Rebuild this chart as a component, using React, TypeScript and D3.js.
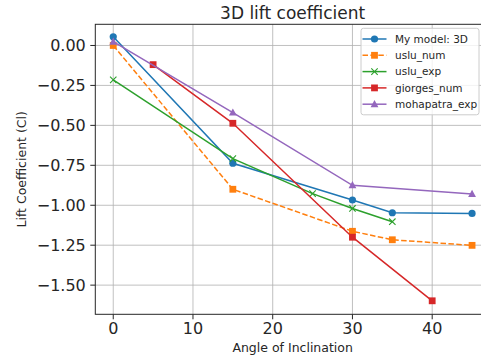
import React, { useRef, useEffect } from "react";
import * as d3 from "d3";

// angle of inclination (deg) and lift coefficient for each source
const modelAngles = [0, 15, 30, 35, 45];
const modelCl = [0.054, -0.737, -0.967, -1.047, -1.051];

const usluNumAngles = [0, 15, 30, 35, 45];
const usluNumCl = [0.0, -0.9, -1.163, -1.216, -1.251];

const usluExpAngles = [0, 15, 25, 30, 35];
const usluExpCl = [-0.215, -0.708, -0.927, -1.02, -1.103];

const giorgesAngles = [5, 15, 30, 40];
const giorgesCl = [-0.12, -0.487, -1.2, -1.598];

const mohapatraAngles = [0, 15, 30, 45];
const mohapatraCl = [0.024, -0.42, -0.875, -0.93];

const xTicks = [0, 10, 20, 30, 40];
const yTicks = [0, -0.25, -0.5, -0.75, -1.0, -1.25, -1.5];

interface Series {
  name: string;
  xs: number[];
  ys: number[];
  color: string;
  marker: "circle" | "square" | "x" | "triangle";
  dashed: boolean;
}

const series: Series[] = [
  { name: "My model: 3D", xs: modelAngles, ys: modelCl, color: "#1f77b4", marker: "circle", dashed: false },
  { name: "uslu_num", xs: usluNumAngles, ys: usluNumCl, color: "#ff7f0e", marker: "square", dashed: true },
  { name: "uslu_exp", xs: usluExpAngles, ys: usluExpCl, color: "#2ca02c", marker: "x", dashed: false },
  { name: "giorges_num", xs: giorgesAngles, ys: giorgesCl, color: "#d62728", marker: "square", dashed: false },
  { name: "mohapatra_exp", xs: mohapatraAngles, ys: mohapatraCl, color: "#9467bd", marker: "triangle", dashed: false },
];

const App: React.FC = () => {
  const svgRef = useRef<SVGSVGElement | null>(null);

  const width = 481;
  const height = 362;
  const left = 95.3;
  const right = 490;
  const top = 24.3;
  const bottom = 314.3;

  useEffect(() => {
    document.body.style.margin = "0";
    if (!svgRef.current) return;
    const svg = d3.select(svgRef.current);
    svg.selectAll("*").remove();

    const font = "DejaVu Sans, sans-serif";
    const xScale = d3.scaleLinear().domain([-2.25, 47.25]).range([left, right]);
    const yScale = d3.scaleLinear().domain([0.1325, -1.6825]).range([top, bottom]);

    // grid
    svg.append("g").selectAll("line").data(xTicks).enter().append("line")
      .attr("x1", (d) => xScale(d)).attr("x2", (d) => xScale(d))
      .attr("y1", top).attr("y2", bottom)
      .attr("stroke", "#b0b0b0").attr("stroke-width", 0.8);
    svg.append("g").selectAll("line").data(yTicks).enter().append("line")
      .attr("y1", (d) => yScale(d)).attr("y2", (d) => yScale(d))
      .attr("x1", left).attr("x2", right)
      .attr("stroke", "#b0b0b0").attr("stroke-width", 0.8);

    // series
    const line = d3.line<[number, number]>().x((d) => xScale(d[0])).y((d) => yScale(d[1]));
    const drawMarker = (g: d3.Selection<SVGGElement, unknown, null, undefined>, s: Series, cx: number, cy: number) => {
      if (s.marker === "circle") {
        g.append("circle").attr("cx", cx).attr("cy", cy).attr("r", 3.6).attr("fill", s.color);
      } else if (s.marker === "square") {
        g.append("rect").attr("x", cx - 3.4).attr("y", cy - 3.4).attr("width", 6.8).attr("height", 6.8).attr("fill", s.color);
      } else if (s.marker === "triangle") {
        g.append("path")
          .attr("d", `M${cx},${cy - 4.2}L${cx + 3.9},${cy + 3}L${cx - 3.9},${cy + 3}Z`)
          .attr("fill", s.color);
      } else {
        g.append("path")
          .attr("d", `M${cx - 3.2},${cy - 3.2}L${cx + 3.2},${cy + 3.2}M${cx - 3.2},${cy + 3.2}L${cx + 3.2},${cy - 3.2}`)
          .attr("stroke", s.color).attr("stroke-width", 1.1).attr("fill", "none");
      }
    };

    series.forEach((s) => {
      const g = svg.append("g");
      const pts = s.xs.map((x, i) => [x, s.ys[i]] as [number, number]);
      g.append("path")
        .attr("d", line(pts))
        .attr("fill", "none")
        .attr("stroke", s.color)
        .attr("stroke-width", 1.5)
        .attr("stroke-dasharray", s.dashed ? "5.5,2.4" : null);
      pts.forEach((p) => drawMarker(g, s, xScale(p[0]), yScale(p[1])));
    });

    // spines
    svg.append("rect")
      .attr("x", left).attr("y", top)
      .attr("width", right - left).attr("height", bottom - top)
      .attr("fill", "none").attr("stroke", "#262626").attr("stroke-width", 1);

    // ticks
    svg.append("g").selectAll("line").data(xTicks).enter().append("line")
      .attr("x1", (d) => xScale(d)).attr("x2", (d) => xScale(d))
      .attr("y1", bottom).attr("y2", bottom + 5)
      .attr("stroke", "#262626").attr("stroke-width", 1);
    svg.append("g").selectAll("text").data(xTicks).enter().append("text")
      .attr("x", (d) => xScale(d)).attr("y", bottom + 19.5)
      .attr("text-anchor", "middle")
      .attr("font-family", font).attr("font-size", 16).attr("fill", "#262626")
      .text((d) => String(d));

    svg.append("g").selectAll("line").data(yTicks).enter().append("line")
      .attr("y1", (d) => yScale(d)).attr("y2", (d) => yScale(d))
      .attr("x1", left - 5).attr("x2", left)
      .attr("stroke", "#262626").attr("stroke-width", 1);
    svg.append("g").selectAll("text").data(yTicks).enter().append("text")
      .attr("x", left - 9.5).attr("y", (d) => yScale(d) + 5.8)
      .attr("text-anchor", "end")
      .attr("font-family", font).attr("font-size", 16).attr("fill", "#262626")
      .text((d) => d3.format(".2f")(d).replace("-", "\u2212"));

    // labels
    svg.append("text")
      .attr("x", (left + right) / 2).attr("y", 18.5)
      .attr("text-anchor", "middle")
      .attr("font-family", font).attr("font-size", 17).attr("fill", "#262626")
      .text("3D lift coefficient");
    svg.append("text")
      .attr("x", (left + right) / 2).attr("y", 352)
      .attr("text-anchor", "middle")
      .attr("font-family", font).attr("font-size", 12.5).attr("fill", "#262626")
      .text("Angle of Inclination");
    svg.append("text")
      .attr("transform", `translate(26,${(top + bottom) / 2}) rotate(-90)`)
      .attr("text-anchor", "middle")
      .attr("font-family", font).attr("font-size", 12.5).attr("fill", "#262626")
      .text("Lift Coefficient (Cl)");

    // legend
    const lg = svg.append("g");
    lg.append("rect")
      .attr("x", 361).attr("y", 28.3).attr("width", 118).attr("height", 86.5)
      .attr("rx", 2.5)
      .attr("fill", "white").attr("fill-opacity", 0.8)
      .attr("stroke", "#cccccc").attr("stroke-width", 1);
    series.forEach((s, i) => {
      const cy = 39 + i * 16.3;
      const g = lg.append("g");
      g.append("line")
        .attr("x1", 362.5).attr("x2", 386.5).attr("y1", cy).attr("y2", cy)
        .attr("stroke", s.color).attr("stroke-width", 1.5)
        .attr("stroke-dasharray", s.dashed ? "5.5,2.4" : null);
      drawMarker(g, s, 374.5, cy);
      g.append("text")
        .attr("x", 395).attr("y", cy + 3.8)
        .attr("font-family", font).attr("font-size", 10.5).attr("fill", "#262626")
        .text(s.name);
    });
  }, []);

  return <svg ref={svgRef} width={width} height={height} style={{ display: "block" }} />;
};

export default App;
